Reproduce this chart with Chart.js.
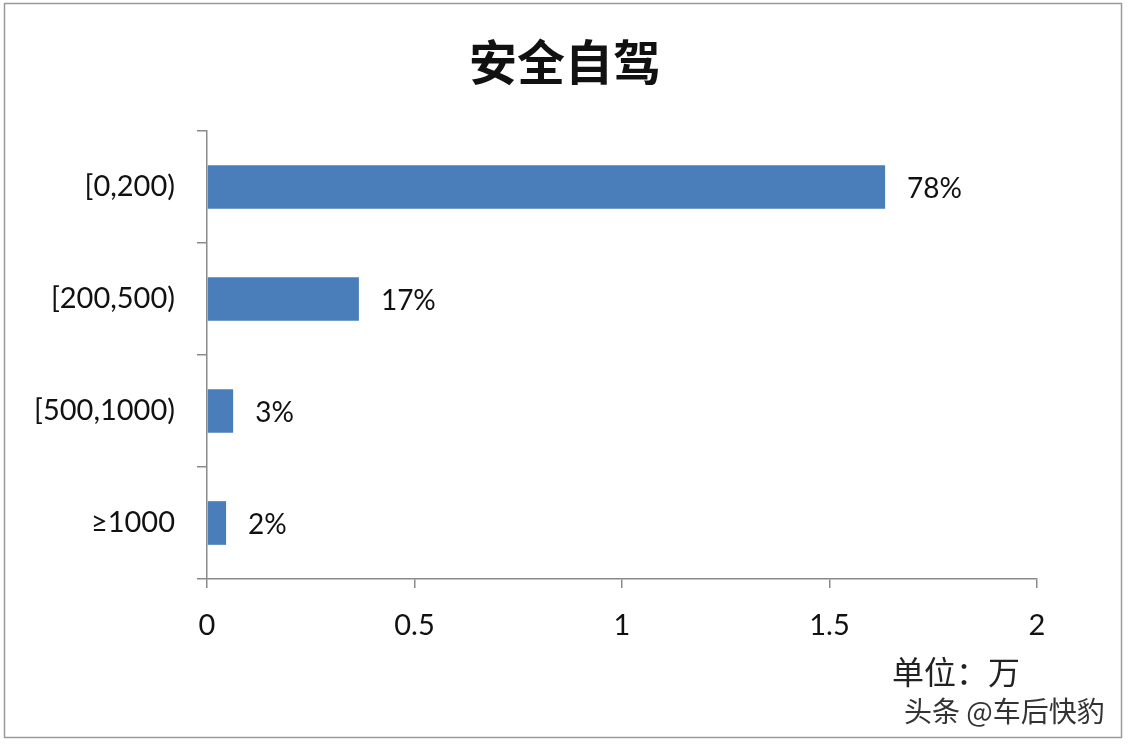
<!DOCTYPE html>
<html>
<head>
<meta charset="utf-8">
<script src="https://cdn.jsdelivr.net/npm/chart.js@4"></script>
<style>
  body { margin: 0; background: #fff; }
  #wrap { width: 1130px; height: 746px; }
</style>
</head>
<body>
<div id="wrap"><canvas id="chart" width="1130" height="746"></canvas></div>
<script>
var title = '安全自驾';
var categories = ['[0,200)', '[200,500)', '[500,1000)', '≥1000'];
var values = [1.634, 0.366, 0.063, 0.046];
var percentLabels = ['78%', '17%', '3%', '2%'];
var xTicks = [0, 0.5, 1, 1.5, 2];

var latin = "Lato, 'Noto Sans CJK SC', sans-serif";
var axisGray = '#8a8a8a';

// title (centred on the whole picture), frame, value labels, unit note and watermark
var extras = {
  id: 'extras',
  afterDatasetsDraw: function(chart) {
    var ctx = chart.ctx;
    var meta = chart.getDatasetMeta(0);
    ctx.save();
    ctx.textBaseline = 'middle';

    ctx.textAlign = 'center';
    ctx.fillStyle = '#111';
    ctx.font = "bold 48px 'Noto Sans CJK SC'";
    ctx.fillText(title, 565, 62);

    ctx.textAlign = 'left';
    ctx.font = '28px ' + latin;
    meta.data.forEach(function(bar, i) {
      ctx.fillText(percentLabels[i], bar.x + 22, bar.y + 2);
    });

    ctx.font = "32px 'Noto Sans CJK SC'";
    ctx.fillStyle = '#222';
    ctx.fillText('单位：万', 892, 672);

    ctx.font = "28px 'Noto Sans CJK SC'";
    ctx.lineWidth = 3;
    ctx.strokeStyle = '#ffffff';
    ctx.strokeText('头条 @车后快豹', 904, 711);
    ctx.fillStyle = '#333';
    ctx.fillText('头条 @车后快豹', 904, 711);

    ctx.strokeStyle = '#9a9a9a';
    ctx.lineWidth = 1.5;
    ctx.strokeRect(4.5, 3.5, 1117, 734);
    ctx.restore();
  }
};

var myChart = new Chart(document.getElementById('chart'), {
  type: 'bar',
  data: {
    labels: categories,
    datasets: [
      {
        label: title,
        backgroundColor: '#4a7ebb',
        data: values,
        barPercentage: 0.39,
        categoryPercentage: 1
      }
    ]
  },
  options: {
    indexAxis: 'y',
    responsive: false,
    animation: false,
    layout: { padding: { left: 0, right: 93, top: 131, bottom: 0 } },
    plugins: {
      legend: { display: false },
      tooltip: { enabled: false },
      title: { display: false }
    },
    scales: {
      x: {
        type: 'linear',
        min: 0,
        max: 2,
        afterBuildTicks: function(scale) {
          scale.ticks = xTicks.map(function(v) { return { value: v }; });
        },
        afterFit: function(scale) { scale.height = 167; },
        border: { color: axisGray, width: 1.5 },
        grid: { drawOnChartArea: false, drawTicks: true, tickLength: 9, color: axisGray, lineWidth: 1.5 },
        ticks: {
          color: '#111', font: { family: latin, size: 29 }, padding: 20,
          callback: function(v) { return String(v); }
        }
      },
      y: {
        afterFit: function(scale) { scale.width = 207; },
        border: { color: axisGray, width: 1.5 },
        grid: { drawOnChartArea: false, drawTicks: true, tickLength: 10, color: axisGray, lineWidth: 1.5, offset: true },
        ticks: { color: '#111', font: { family: latin, size: 29 }, padding: 22 }
      }
    }
  },
  plugins: [extras]
});
</script>
</body>
</html>
